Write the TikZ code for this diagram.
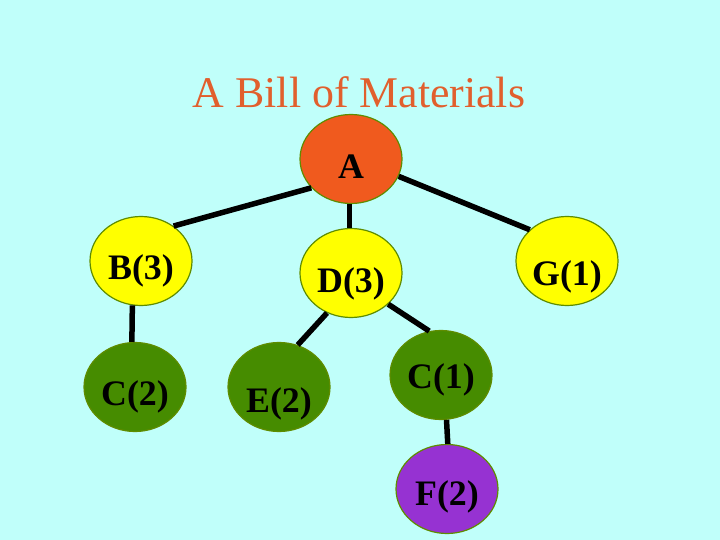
\documentclass[tikz,border=0pt]{standalone}
\usepackage{fontspec}
\setmainfont{Liberation Serif}
\usepackage{tikz}
\usetikzlibrary{shapes.geometric}
\definecolor{fundo}{RGB}{192,255,250}
\definecolor{laranja}{RGB}{240,90,30}
\definecolor{amarelo}{RGB}{255,255,0}
\definecolor{verde}{RGB}{70,140,0}
\definecolor{roxo}{RGB}{150,50,210}
\definecolor{borda}{RGB}{95,140,0}
\definecolor{titulo}{RGB}{225,95,45}
\newcommand{\corFundo}{fundo}
\newcommand{\corRaiz}{laranja}
\newcommand{\corMeio}{amarelo}
\newcommand{\corBase}{verde}
\newcommand{\corFolha}{roxo}
\newcommand{\corBorda}{borda}
\newcommand{\corTitulo}{titulo}
\tikzset{
  peca/.style={ellipse, draw=\corBorda, line width=1.2bp, minimum width=102bp,
    minimum height=89bp, inner sep=0pt, text height=36bp, text depth=0pt,
    font=\fontsize{36}{40}\selectfont\bfseries},
  ligacao/.style={line width=5.5bp, black}
}
\begin{document}
\begin{tikzpicture}[x=1bp, y=-1bp]
        % fundo
        \fill[\corFundo] (0,0) rectangle (720,540);
        \useasboundingbox (0,0) rectangle (720,540);

        % titulo
        \node[anchor=base, text=\corTitulo, font=\fontsize{44}{50}\selectfont] (titulo) at (359,108) {A Bill of Materials};

        % nivel 0
        \node[peca, fill=\corRaiz, text height=40bp] (A) at (351,159) {A};

        % nivel 1
        \node[peca, fill=\corMeio] (B3) at (141,261) {B(3)};
        \node[peca, fill=\corMeio, text height=38bp] (D3) at (351,273) {D(3)};
        \node[peca, fill=\corMeio, text height=48bp] (G1) at (567,261) {G(1)};

        % nivel 2
        \node[peca, fill=\corBase] (C2) at (135,387) {C(2)};
        \node[peca, fill=\corBase, text height=50bp] (E2) at (279,387) {E(2)};
        \node[peca, fill=\corBase, text height=26bp] (C1) at (441,375) {C(1)};

        % nivel 3
        \node[peca, fill=\corFolha, text height=32bp] (F2) at (447,489) {F(2)};

        % ligacoes
        \draw[ligacao] (A.216) -- (B3.47);
        \draw[ligacao] (A.268) -- (D3.92);
        \draw[ligacao] (A.340) -- (G1.140);
        \draw[ligacao] (B3.259) -- (C2.94);
        \draw[ligacao] (D3.239) -- (E2.66);
        \draw[ligacao] (D3.320) -- (C1.105);
        \draw[ligacao] (C1.277) -- (F2.89);
\end{tikzpicture}
\end{document}
